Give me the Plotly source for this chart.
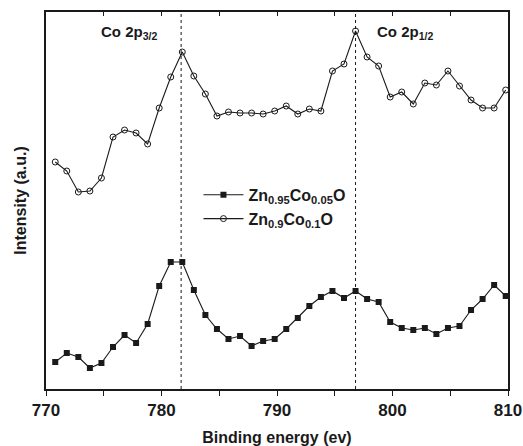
import plotly.graph_objects as go

# Binding energies (eV)
energy = [770.8 + k for k in range(40)]

# Intensities (a.u.)
zn095_co005 = [27, 36, 32, 21, 26, 42, 54, 46, 65, 103, 127, 127, 99, 74, 60, 50,
               53, 43, 48, 50, 60, 71, 83, 92, 98, 91, 98, 90, 87, 67, 61, 59, 61,
               55, 61, 63, 79, 90, 104, 93]
zn09_co01 = [227, 218, 197, 198, 211, 252, 259, 256, 245, 281, 312, 337, 313, 295,
             273, 277, 276, 276, 275, 278, 283, 275, 280, 278, 318, 325, 358, 332,
             323, 292, 297, 285, 306, 304, 318, 303, 289, 281, 281, 299]

peak_positions = [781.7, 796.8]
peak_labels = ["Co 2p<sub>3/2</sub>", "Co 2p<sub>1/2</sub>"]
peak_label_x = [777.2, 801.1]

x_ticks = [770, 780, 790, 800, 810]

FONT = "Liberation Sans, Arial, sans-serif"
INK = "#1a1a1a"

fig = go.Figure()
fig.add_trace(go.Scatter(
    x=energy, y=zn095_co005, mode="lines+markers",
    name="Zn<sub>0.95</sub>Co<sub>0.05</sub>O",
    line=dict(color=INK, width=1.1),
    marker=dict(symbol="square", size=6, color=INK, line=dict(width=0)),
))
fig.add_trace(go.Scatter(
    x=energy, y=zn09_co01, mode="lines+markers",
    name="Zn<sub>0.9</sub>Co<sub>0.1</sub>O",
    line=dict(color=INK, width=1.1),
    marker=dict(symbol="circle-open", size=6, color=INK, line=dict(width=1)),
))
# helper trace on top axis so it is drawn
fig.add_trace(go.Scatter(x=[], y=[], xaxis="x2", showlegend=False, hoverinfo="skip"))

for p in peak_positions:
    fig.add_vline(x=p, line=dict(color=INK, width=1, dash="dot"))

for lx, lt in zip(peak_label_x, peak_labels):
    fig.add_annotation(x=lx, y=1.0, yref="paper", yanchor="middle", yshift=-20,
                       text=lt, showarrow=False,
                       font=dict(family=FONT, size=15, color=INK, weight="bold"))

fig.update_layout(
    width=523, height=446,
    margin=dict(l=46, r=15, t=12, b=57),
    plot_bgcolor="white", paper_bgcolor="white",
    font=dict(family=FONT, color=INK),
    xaxis=dict(range=[770, 810], tickvals=x_ticks, ticks="outside", ticklen=5,
               tickwidth=1, tickcolor=INK, automargin=False,
               minor=dict(dtick=5, ticks="outside", ticklen=5, tickcolor=INK),
               showline=True, linecolor=INK, linewidth=1.5, showgrid=False,
               zeroline=False,
               tickfont=dict(family=FONT, size=17, color=INK, weight="bold"),
               title=dict(text="Binding energy (ev)", standoff=14,
                          font=dict(family=FONT, size=16, color=INK, weight="bold"))),
    xaxis2=dict(range=[770, 810], overlaying="x", side="top", tickvals=x_ticks,
                ticks="inside", ticklen=4, tickcolor=INK, showticklabels=False,
                minor=dict(dtick=5, ticks="inside", ticklen=4, tickcolor=INK),
                showline=True, linecolor=INK, linewidth=1.5, showgrid=False,
                zeroline=False, automargin=False),
    yaxis=dict(range=[0, 377], showticklabels=False, ticks="", showline=True,
               mirror=True, linecolor=INK, linewidth=1.5, showgrid=False,
               zeroline=False, automargin=False,
               title=dict(text="Intensity (a.u.)", standoff=14,
                          font=dict(family=FONT, size=16, color=INK, weight="bold"))),
    legend=dict(x=0.33, y=0.56, xanchor="left", yanchor="top",
                bgcolor="rgba(0,0,0,0)", tracegroupgap=0, itemwidth=40,
                font=dict(family=FONT, size=16, color=INK, weight="bold")),
    showlegend=True,
)

fig.write_html("out.html")
